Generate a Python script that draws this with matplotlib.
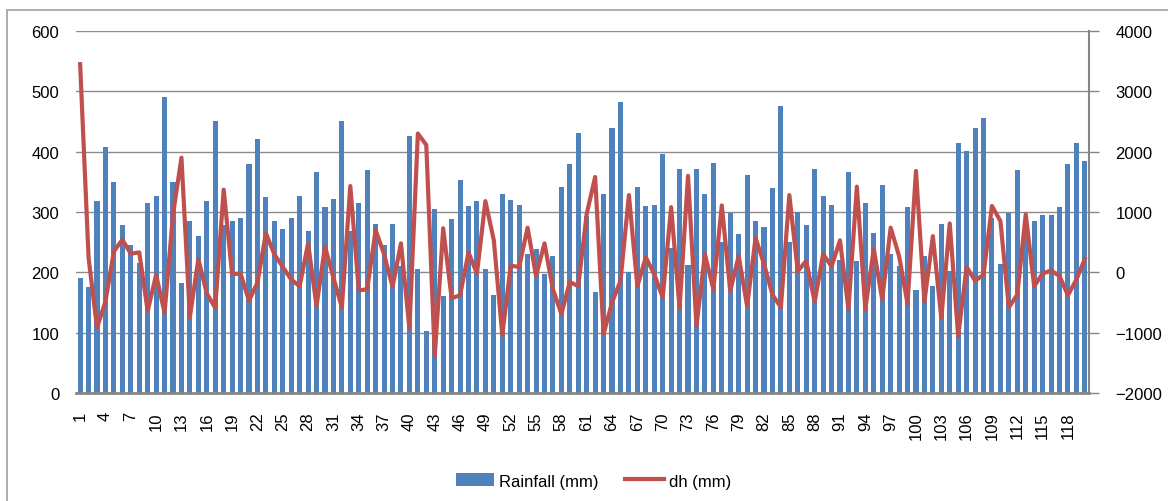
import matplotlib.pyplot as plt
import matplotlib.patches as mpatches
import numpy as np

plt.rcParams['font.family'] = ['Liberation Sans', 'DejaVu Sans']

# monthly rainfall (mm) and groundwater level change dh (mm), periods 1..120
rainfall = [190, 175, 318, 408, 350, 278, 246, 215, 315, 327,
            490, 350, 182, 285, 261, 318, 450, 278, 285, 290,
            379, 421, 325, 285, 271, 290, 327, 268, 367, 308,
            322, 450, 268, 315, 369, 280, 246, 280, 210, 426,
            205, 102, 305, 160, 289, 353, 310, 318, 205, 163,
            330, 320, 312, 231, 238, 198, 227, 342, 379, 431,
            293, 168, 330, 440, 482, 200, 342, 310, 312, 396,
            240, 372, 212, 372, 330, 382, 251, 298, 263, 362,
            285, 275, 340, 475, 250, 300, 278, 372, 327, 312,
            220, 367, 219, 315, 266, 345, 230, 210, 308, 170,
            227, 177, 280, 202, 415, 401, 440, 455, 290, 214,
            298, 369, 285, 285, 295, 295, 308, 379, 415, 384]

dh = [3450, 240, -920, -480, 350, 540, 310, 330, -640, -40,
      -670, 960, 1900, -740, 220, -350, -590, 1370, -30, -20,
      -470, -170, 650, 300, 90, -120, -230, 480, -560, 430,
      -90, -580, 1430, -300, -280, 700, 300, -240, 480, -930,
      2300, 2110, -1390, 730, -430, -380, 330, -20, 1180, 530,
      -1040, 110, 90, 740, -60, 480, -280, -690, -160, -230,
      970, 1580, -1020, -500, -140, 1280, -230, 250, -30, -420,
      1080, -590, 1600, -890, 300, -280, 1110, -310, 270, -560,
      570, 140, -370, -580, 1280, 20, 190, -490, 300, 100,
      530, -610, 1420, -610, 390, -450, 740, 270, -520, 1680,
      -490, 600, -760, 810, -1060, 90, -140, -40, 1100, 850,
      -580, -370, 960, -230, -20, 30, -60, -380, -120, 220]

periods = np.arange(1, len(rainfall) + 1)
tick_labels = [str(p) for p in periods[::3]]

fig = plt.figure(figsize=(11.68, 5.02), dpi=100)

# chart frame
fig.patches.append(mpatches.Rectangle((7 / 1168, -0.1), 1.2, 1 - 11 / 502 + 0.1,
                                      transform=fig.transFigure, fill=False,
                                      edgecolor='#a0a0a0', linewidth=1.2))

ax = fig.add_axes([0.065, 0.2151, 0.8674, 0.7212])
ax.bar(periods, rainfall, width=0.6, color='#4f81bd', label='Rainfall (mm)', zorder=2)
ax.set_xlim(0.5, len(rainfall) + 0.5)
ax.set_ylim(0, 600)
ax.set_yticks(range(0, 601, 100))
ax.yaxis.grid(True, color='#8c8c8c', linewidth=1)
ax.set_axisbelow(True)
ax.set_xticks(periods[::3])
ax.set_xticklabels(tick_labels, rotation=90, fontsize=12)
ax.tick_params(axis='x', length=0, pad=13)
ax.tick_params(axis='y', length=0, pad=12, labelsize=12)
for s in ['left', 'top', 'right']:
    ax.spines[s].set_visible(False)
ax.spines['bottom'].set_color('#868686')
ax.spines['bottom'].set_linewidth(2)

ax2 = ax.twinx()
ax2.plot(periods, dh, color='#c0504d', linewidth=3, label='dh (mm)')
ax2.set_ylim(-2000, 4000)
ax2.set_yticks(range(-2000, 4001, 1000))
ax2.tick_params(axis='y', length=7, width=1, color='#868686', pad=12, labelsize=12)
for s in ['left', 'top', 'bottom']:
    ax2.spines[s].set_visible(False)
ax2.spines['right'].set_color('#868686')
ax2.spines['right'].set_linewidth(1.5)

h1, l1 = ax.get_legend_handles_labels()
h2, l2 = ax2.get_legend_handles_labels()
fig.legend(h1 + h2, l1 + l2, loc='center', bbox_to_anchor=(0.508, 0.04), ncol=2,
           frameon=False, fontsize=12, handlelength=2.3, handleheight=0.8,
           columnspacing=1.6, handletextpad=0.3)

fig.savefig('out.png', dpi=100)
